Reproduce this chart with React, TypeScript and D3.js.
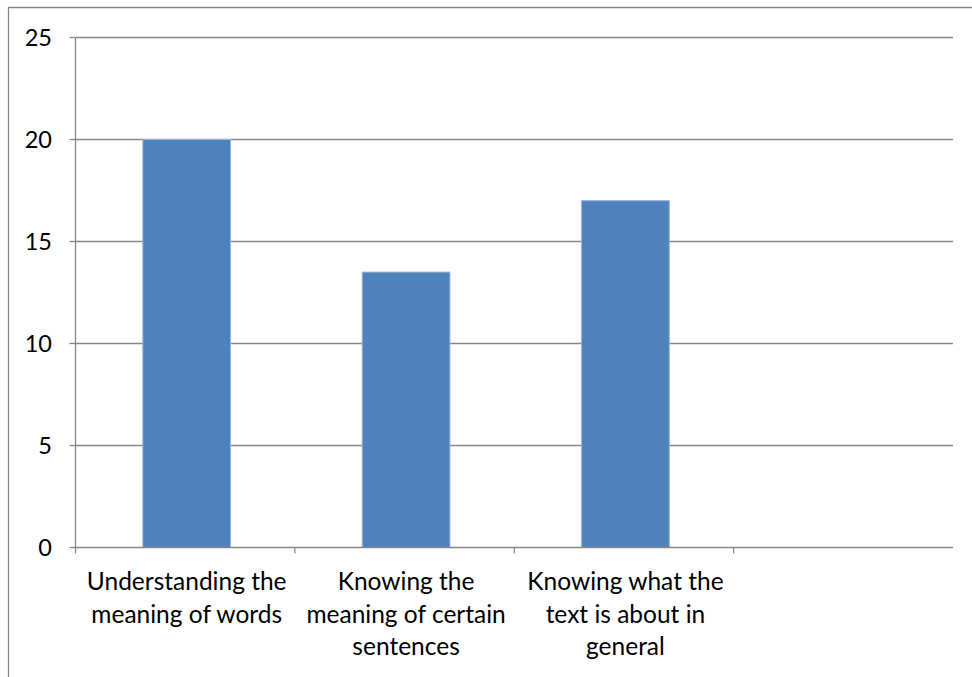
import { scaleBand, scaleLinear } from 'd3'

const categories = [
  ['Understanding the', 'meaning of words'],
  ['Knowing the', 'meaning of certain', 'sentences'],
  ['Knowing what the', 'text is about in', 'general'],
  [],
]
const values = [20, 13.5, 17, null]
const yTicks = [0, 5, 10, 15, 20, 25]

export default function App() {
  const width = 972
  const height = 677
  const left = 75.5
  const right = 953
  const top = 37.5
  const bottom = 547.5
  const grey = '#868686'
  const font = 'Lato, "Open Sans", sans-serif'

  const keys = categories.map((_, i) => String(i))
  const x = scaleBand<string>().domain(keys).range([left, right]).paddingInner(0.6).paddingOuter(0.3)
  const y = scaleLinear().domain([0, 25]).range([bottom, top])
  const step = x.step()
  const edge = (i: number) => (x(keys[i]) ?? 0) - step * 0.3

  return (
    <svg
      width={width}
      height={height}
      style={{ position: 'absolute', left: 0, top: 0, background: '#fff' }}
    >
      <path d={`M8.5,${height + 2}V7.5H${width + 2}`} fill="none" stroke={grey} strokeWidth={1.3} />
      {yTicks.map((t) => (
        <g key={t}>
          {t > 0 && <line x1={left} x2={right} y1={y(t)} y2={y(t)} stroke={grey} strokeWidth={1.3} />}
          <line x1={left - 6} x2={left} y1={y(t)} y2={y(t)} stroke={grey} strokeWidth={1.3} />
          <text x={52} y={y(t) + 8.5} textAnchor="end" fontFamily={font} fontSize={23.5} fill="#000">
            {t}
          </text>
        </g>
      ))}
      {values.map((v, i) =>
        v == null ? null : (
          <rect
            key={i}
            x={(x(keys[i]) ?? 0) + 1.5}
            y={y(v)}
            width={x.bandwidth()}
            height={y(0) - y(v)}
            fill="#4F81BD"
            stroke="#9BB5DA"
            strokeWidth={1}
          />
        ),
      )}
      <line x1={left} x2={left} y1={top} y2={bottom + 6} stroke={grey} strokeWidth={1.3} />
      <line x1={left} x2={right} y1={bottom} y2={bottom} stroke={grey} strokeWidth={1.3} />
      {keys.map((_, i) => (
        <line key={i} x1={edge(i + 1)} x2={edge(i + 1)} y1={bottom} y2={bottom + 6} stroke={grey} strokeWidth={1.3} />
      ))}
      {categories.map((lines, i) => (
        <text
          key={i}
          textAnchor="middle"
          fontFamily={font}
          fontSize={24.5}
          fill="#000"
        >
          {lines.map((l, j) => (
            <tspan key={j} x={(x(keys[i]) ?? 0) + x.bandwidth() / 2 + 1.5} y={590 + j * 32.5}>
              {l}
            </tspan>
          ))}
        </text>
      ))}
    </svg>
  )
}
